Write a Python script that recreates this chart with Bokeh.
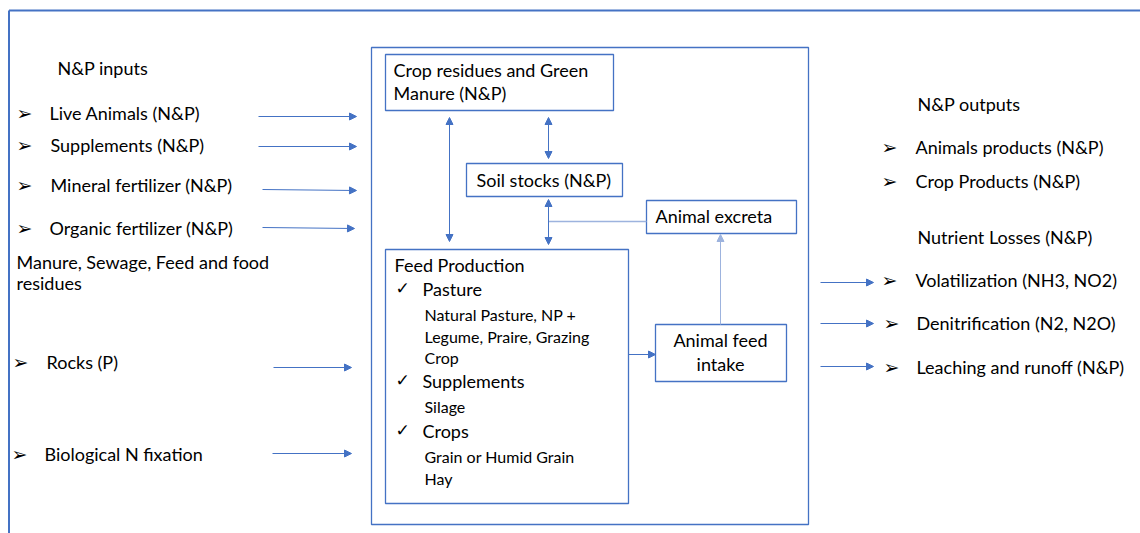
from bokeh.plotting import figure
from bokeh.models import Range1d, ColumnDataSource, Arrow, NormalHead
from bokeh.core.properties import value
from bokeh.embed import file_html
from bokeh.resources import INLINE

BLUE = "#4472C4"
LIGHT = "#9DB3DE"

# ---- labels ----
input_title = "N&P inputs"
input_items = ["Live Animals (N&P)", "Supplements  (N&P)", "Mineral fertilizer (N&P)",
               "Organic fertilizer (N&P)", "Rocks (P)", "Biological N fixation"]
manure_lines = ["Manure, Sewage, Feed and food", "residues"]
output_title = "N&P outputs"
output_items = ["Animals products (N&P)", "Crop Products (N&P)"]
loss_title = "Nutrient Losses (N&P)"
loss_items = ["Volatilization (NH3, NO2)", "Denitrification (N2, N2O)", "Leaching and runoff (N&P)"]
crop_res_lines = ["Crop residues and Green", "Manure (N&P)"]
soil_label = "Soil stocks (N&P)"
excreta_label = "Animal excreta"
intake_lines = ["Animal feed", "intake"]
feed_title = "Feed Production"
feed_checks = ["Pasture", "Supplements", "Crops"]
feed_details = ["Natural Pasture, NP +", "Legume, Praire, Grazing", "Crop", "Silage",
                "Grain or Humid Grain", "Hay"]

# ---- layout (pixel coordinates, y downward) ----
input_x = [49, 50, 50, 49, 46, 44]
input_y = [114, 146, 186, 229, 363, 455]
input_bx = [16, 16, 16, 16, 12, 11]
input_arrow_x0 = [258, 258, 262, 262, 273, 272]
input_arrow_x1 = [356, 356, 356, 354, 351, 351]
input_arrow_y0 = [116, 146, 189, 227, 367, 453]
input_arrow_y1 = [116, 146, 190, 228, 367, 453]

out_y = [148, 182]
loss_y = [281, 324, 368]
loss_arrow_y = [282, 323, 366]

W, H = 1140, 533
p = figure(width=W, height=H, x_range=Range1d(0, W), y_range=Range1d(H, 0),
           output_backend="svg", toolbar_location=None, min_border=0)
p.axis.visible = False
p.grid.visible = False
p.outline_line_color = None
p.background_fill_color = "white"

# frame and boxes
boxes = dict(left=[371, 385, 466, 646, 385, 655],
             right=[808, 613, 622, 796, 628, 786],
             top=[47, 54, 163, 200, 249, 324],
             bottom=[524, 110, 196, 233, 503, 381])
p.quad(source=ColumnDataSource(boxes), left="left", right="right", top="top", bottom="bottom",
       fill_color=None, line_color=BLUE, line_width=1.3)
p.segment(x0=[8.5, 8.5], y0=[10, 10], x1=[1140, 8.5], y1=[10, 533], line_color=BLUE, line_width=2)

# connector without head
p.segment(x0=[548], y0=[221], x1=[646], y1=[221], line_color=LIGHT, line_width=1.3)

def arrows(x0, y0, x1, y1, color, double=False):
    src = ColumnDataSource(dict(x0=x0, y0=y0, x1=x1, y1=y1))
    end = NormalHead(size=7, fill_color=color, line_color=color)
    start = NormalHead(size=7, fill_color=color, line_color=color) if double else None
    p.add_layout(Arrow(end=end, start=start, x_start="x0", y_start="y0", x_end="x1", y_end="y1",
                       source=src, line_color=color, line_width=1))

arrows(input_arrow_x0, input_arrow_y0, input_arrow_x1, input_arrow_y1, BLUE)
arrows([820] * 3, loss_arrow_y, [873] * 3, loss_arrow_y, BLUE)
arrows([449, 548, 548], [117, 117, 199], [449, 548, 548], [241, 158, 244], BLUE, double=True)
arrows([628], [354], [655], [354], BLUE)
arrows([720], [324], [720], [234], LIGHT)

FONT = value("Lato")
SYM = value("DejaVu Sans")
DY = -2  # baseline correction for the font

def txt(xs, ys, texts, size="18px", font=FONT, align="left"):
    p.text(x=xs, y=[y + DY for y in ys], text=texts, text_font=font, text_font_size=size,
           text_color="black", text_align=align, text_baseline="middle")

# left column
txt([57], [69], [input_title])
txt(input_x, input_y, input_items)
txt(input_bx, input_y, ["\u27a2"] * 6, size="19px", font=SYM)
txt([16, 16], [263, 284], manure_lines)

# right column
txt([917], [105], [output_title])
txt([915, 915], out_y, output_items)
txt([881, 881], out_y, ["\u27a2"] * 2, size="19px", font=SYM)
txt([917], [238], [loss_title])
txt([915, 916, 916], loss_y, loss_items)
txt([881, 883, 883], loss_y, ["\u27a2"] * 3, size="19px", font=SYM)

# centre
txt([393, 393], [71, 94], crop_res_lines)
txt([476], [181], [soil_label])
txt([655], [217], [excreta_label])
txt([720, 720], [341, 365], intake_lines, align="center")
txt([394], [266], [feed_title])
txt([422, 422, 422], [290, 382, 432], feed_checks)
txt([395, 395, 395], [289, 381, 431], ["\u2713"] * 3, size="17px", font=SYM)
txt([424] * 6, [316, 338, 359, 408, 458, 480], feed_details, size="16px")

open("out.html", "w").write(file_html(p, INLINE))
